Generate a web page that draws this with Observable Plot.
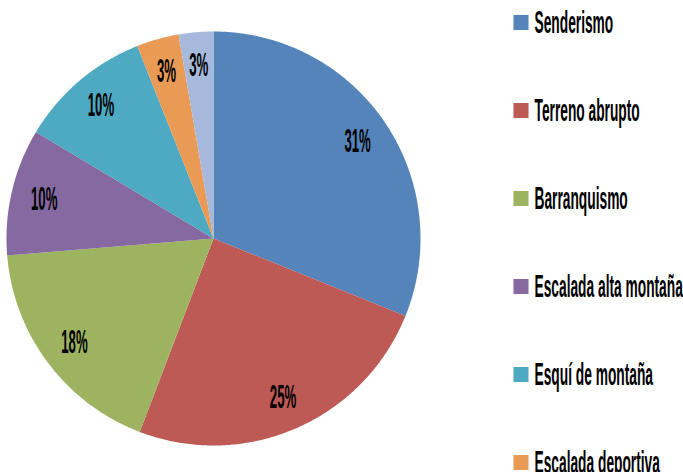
<!DOCTYPE html>
<html>
<head>
<meta charset="utf-8">
<script src="https://cdn.jsdelivr.net/npm/d3@7"></script>
<script src="https://cdn.jsdelivr.net/npm/@observablehq/plot@0.6"></script>
<style>
  html, body { margin: 0; padding: 0; background: #fff; overflow: hidden; }
  #wrap { position: relative; width: 683px; height: 472px; }
  #wrap svg { position: absolute; top: 0; }
</style>
</head>
<body>
<div id="wrap"></div>
<script>
const categories = ["Senderismo", "Terreno abrupto", "Barranquismo", "Escalada alta montaña", "Esquí de montaña", "Escalada deportiva", "Otros"];
const values = [31.1, 24.7, 17.9, 9.9, 10.4, 3.3, 2.7];
const colors = ["#5584ba", "#be5a56", "#9db35f", "#8569a0", "#4eaac2", "#e99a55", "#a6b9dc"];

const FONT = "'Liberation Sans', Arial, sans-serif";
const data = categories.map((c, i) => ({cat: c, value: values[i]}));
const arcs = d3.pie().sort(null).value(d => d.value)(data);

// slice outlines (unit radius, angle 0 at 12 o'clock, clockwise)
const pts = [];
for (const a of arcs) {
  const n = Math.max(4, Math.ceil((a.endAngle - a.startAngle) / 0.01));
  pts.push({cat: a.data.cat, x: 0, y: 0});
  for (let k = 0; k <= n; k++) {
    const t = a.startAngle + (a.endAngle - a.startAngle) * k / n;
    pts.push({cat: a.data.cat, x: Math.sin(t), y: Math.cos(t)});
  }
  pts.push({cat: a.data.cat, x: 0, y: 0});
}
const labels = arcs.map(a => {
  const m = (a.startAngle + a.endAngle) / 2;
  return {cat: a.data.cat, x: 0.84 * Math.sin(m), y: 0.84 * Math.cos(m), text: Math.round(a.data.value) + "%"};
});

const R = 207, CX = 213, CY = 238, W = 683, H = 472;
const pie = Plot.plot({
  width: W, height: H,
  margin: 0,
  x: {domain: [-CX / R, (W - CX) / R], range: [0, W], axis: null},
  y: {domain: [-(H - CY) / R, CY / R], range: [H, 0], axis: null},
  color: {domain: categories, range: colors},
  style: {background: "transparent", fontFamily: FONT},
  marks: [
    Plot.line(pts, {x: "x", y: "y", z: "cat", fill: "cat", stroke: "none", curve: "linear"}),
    Plot.text(labels, {x: "x", y: "y", text: "text", fontSize: 33, fontWeight: "bold", fill: "#000", textAnchor: "middle"})
  ]
});

const legend = Plot.plot({
  width: 183, height: H,
  margin: 0,
  x: {domain: [0, 183], range: [0, 183], axis: null},
  y: {type: "point", padding: 0, domain: categories, range: [22, 22 + 88 * (categories.length - 1)], axis: null},
  color: {domain: categories, range: colors},
  style: {background: "transparent", fontFamily: FONT, overflow: "hidden"},
  marks: [
    Plot.dot(categories, {x: () => 20.5, y: d => d, fill: d => d, symbol: "square", r: 8.5, stroke: "none"}),
    Plot.text(categories, {x: () => 34, y: d => d, text: d => d, textAnchor: "start", fontSize: 32, fontWeight: "bold", fill: "#000"})
  ]
});
legend.style.left = "500px";
legend.style.overflow = "hidden";

const wrap = document.getElementById("wrap");
wrap.appendChild(pie);
wrap.appendChild(legend);

function condense(svg, sx, anchor) {
  svg.querySelectorAll("text").forEach(el => {
    const bb = el.getBBox();
    const cx = anchor === "start" ? bb.x : bb.x + bb.width / 2;
    const t = el.getAttribute("transform") || "";
    el.setAttribute("transform", `${t} translate(${cx},0) scale(${sx},1) translate(${-cx},0)`);
  });
}
condense(pie, 0.4, "middle");
condense(legend, 0.43, "start");
</script>
</body>
</html>
